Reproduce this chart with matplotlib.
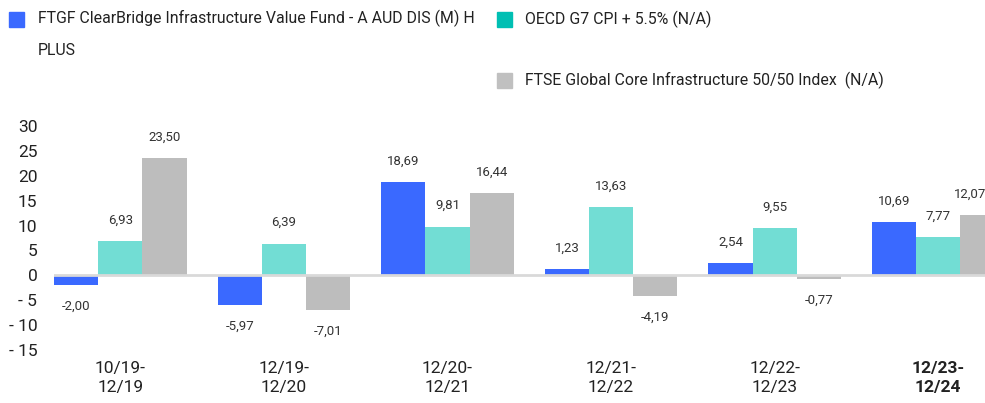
import matplotlib
matplotlib.use("Agg")
import matplotlib.pyplot as plt
from matplotlib.patches import Rectangle
import numpy as np

plt.rcParams['font.family'] = ['Roboto', 'DejaVu Sans']

categories = ["10/19-\n12/19", "12/19-\n12/20", "12/20-\n12/21", "12/21-\n12/22", "12/22-\n12/23", "12/23-\n12/24"]
fund = [-2.00, -5.97, 18.69, 1.23, 2.54, 10.69]
cpi = [6.93, 6.39, 9.81, 13.63, 9.55, 7.77]
ftse = [23.50, -7.01, 16.44, -4.19, -0.77, 12.07]
series_names = ["FTGF ClearBridge Infrastructure Value Fund - A AUD DIS (M) H\nPLUS",
                "OECD G7 CPI + 5.5% (N/A)",
                "FTSE Global Core Infrastructure 50/50 Index  (N/A)"]
yticks = [30, 25, 20, 15, 10, 5, 0, -5, -10, -15]
ytick_labels = ["30", "25", "20", "15", "10", "5", "0", "- 5", "- 10", "- 15"]

bar_colors = ["#3A69FF", "#72DDD4", "#BDBDBD"]
legend_colors = ["#3A69FF", "#00BFB3", "#C0C0C0"]

fig = plt.figure(figsize=(9.85, 4.03), dpi=100)
ax = fig.add_axes([54/985, 1-350/403, 1-54/985, (350-126)/403])

x = np.arange(len(categories))
w = 0.27
xmin, xmax = -1.5*w, -1.5*w + 931/163.6
for k, (vals, col) in enumerate(zip([fund, cpi, ftse], bar_colors)):
    pos = x + (k-1)*w
    ax.bar(pos, vals, width=w, color=col, zorder=2)
    for p, v in zip(pos, vals):
        s = f"{v:.2f}".replace(".", ",")
        dx = -9 if p + 0.12 > xmax else 0
        ax.annotate(s, (p, v), xytext=(dx, 15 if v >= 0 else -15), textcoords="offset points",
                    ha="center", va="center", fontsize=9.5, color="#333333")

ax.axhline(0, color="#D9D9D9", lw=2, zorder=3)
ax.set_xlim(xmin, xmax)
ax.set_ylim(-15, 30)
for s in ax.spines.values():
    s.set_visible(False)
ax.set_yticks(yticks)
ax.set_yticklabels(ytick_labels, fontsize=12.5, color="#222222")
ax.tick_params(axis='y', length=0, pad=12)
ax.set_xticks(x)
ax.set_xticklabels(categories, fontsize=12.5, color="#222222", linespacing=1.3)
ax.tick_params(axis='x', length=0, pad=8)
ax.get_xticklabels()[-1].set_fontweight("bold")

# legend
leg_pos = [(9, 12, 38), (497, 12, 525), (497, 73, 525)]
for (hx, hy, tx), name, col in zip(leg_pos, series_names, legend_colors):
    fig.patches.append(Rectangle((hx/985, 1-(hy+15)/403), 15/985, 15/403,
                                 transform=fig.transFigure, color=col))
    multi = "\n" in name
    fig.text(tx/985, 1-(hy - 2 if multi else hy + 7.5)/403, name, fontsize=11.4, color="#222222",
             va="top" if multi else "center", linespacing=2.3)

fig.savefig("out.png", dpi=100)
